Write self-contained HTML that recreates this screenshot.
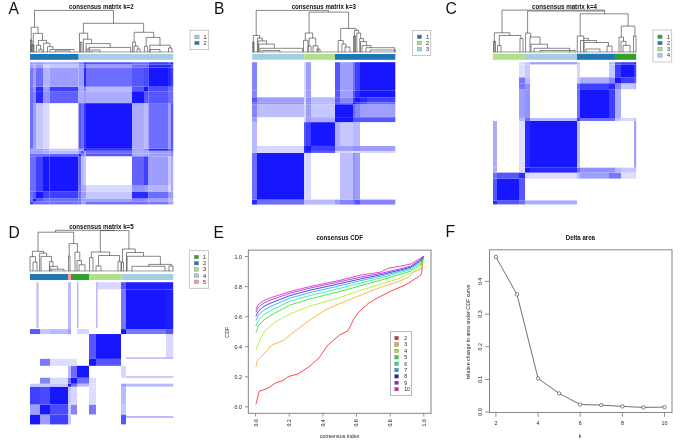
<!DOCTYPE html>
<html><head><meta charset="utf-8"><style>
html,body{margin:0;padding:0;background:#fff;width:685px;height:446px;overflow:hidden}
svg{display:block;will-change:transform}
text{font-family:"Liberation Sans",sans-serif}
</style></head><body>
<svg width="685" height="446" viewBox="0 0 685 446">
<rect width="685" height="446" fill="#fff"/>
<text x="8.5" y="14" font-size="15.6" fill="#111">A</text>
<text x="214" y="14" font-size="15.6" fill="#111">B</text>
<text x="445.5" y="14" font-size="15.6" fill="#111">C</text>
<text x="8.5" y="238" font-size="15.6" fill="#111">D</text>
<text x="213.6" y="238" font-size="15.6" fill="#111">E</text>
<text x="445.5" y="237.4" font-size="15.6" fill="#111">F</text>
<text x="69.1" y="9.3" font-size="7" font-weight="bold" textLength="64.5" lengthAdjust="spacingAndGlyphs" fill="#111">consensus matrix k=2</text>
<text x="291.7" y="9.2" font-size="7" font-weight="bold" textLength="64.2" lengthAdjust="spacingAndGlyphs" fill="#111">consensus matrix k=3</text>
<text x="532" y="9.3" font-size="7" font-weight="bold" textLength="65.0" lengthAdjust="spacingAndGlyphs" fill="#111">consensus matrix k=4</text>
<text x="69.2" y="229.3" font-size="7" font-weight="bold" textLength="64.4" lengthAdjust="spacingAndGlyphs" fill="#111">consensus matrix k=5</text>
<text x="316.4" y="239.8" font-size="7" font-weight="bold" textLength="46.6" lengthAdjust="spacingAndGlyphs" fill="#111">consensus CDF</text>
<text x="565.8" y="239.8" font-size="7" font-weight="bold" textLength="29.2" lengthAdjust="spacingAndGlyphs" fill="#111">Delta area</text>
<rect x="30.00" y="201.42" width="3.00" height="2.98" fill="rgb(63,63,255)"/>
<rect x="30.00" y="198.44" width="3.00" height="2.98" fill="rgb(109,109,255)"/>
<rect x="30.00" y="191.49" width="3.00" height="6.95" fill="rgb(109,109,255)"/>
<rect x="30.00" y="185.04" width="3.00" height="6.45" fill="rgb(109,109,255)"/>
<rect x="30.00" y="156.24" width="3.00" height="28.80" fill="rgb(109,109,255)"/>
<rect x="30.00" y="153.76" width="3.00" height="2.48" fill="rgb(109,109,255)"/>
<rect x="30.00" y="150.78" width="3.00" height="2.98" fill="rgb(158,158,255)"/>
<rect x="30.00" y="148.79" width="3.00" height="1.99" fill="rgb(158,158,255)"/>
<rect x="30.00" y="103.11" width="3.00" height="45.68" fill="rgb(109,109,255)"/>
<rect x="30.00" y="91.20" width="3.00" height="11.92" fill="rgb(109,109,255)"/>
<rect x="30.00" y="86.73" width="3.00" height="4.47" fill="rgb(109,109,255)"/>
<rect x="30.00" y="67.36" width="3.00" height="19.36" fill="rgb(120,120,255)"/>
<rect x="30.00" y="64.38" width="3.00" height="2.98" fill="rgb(158,158,255)"/>
<rect x="30.00" y="62.20" width="3.00" height="2.18" fill="rgb(158,158,255)"/>
<rect x="33.00" y="201.42" width="3.00" height="2.98" fill="rgb(109,109,255)"/>
<rect x="33.00" y="198.44" width="3.00" height="2.98" fill="rgb(23,23,255)"/>
<rect x="33.00" y="191.49" width="3.00" height="6.95" fill="rgb(86,86,255)"/>
<rect x="33.00" y="185.04" width="3.00" height="6.45" fill="rgb(109,109,255)"/>
<rect x="33.00" y="156.24" width="3.00" height="28.80" fill="rgb(109,109,255)"/>
<rect x="33.00" y="153.76" width="3.00" height="2.48" fill="rgb(109,109,255)"/>
<rect x="33.00" y="150.78" width="3.00" height="2.98" fill="rgb(158,158,255)"/>
<rect x="33.00" y="148.79" width="3.00" height="1.99" fill="rgb(158,158,255)"/>
<rect x="33.00" y="103.11" width="3.00" height="45.68" fill="rgb(158,158,255)"/>
<rect x="33.00" y="91.20" width="3.00" height="11.92" fill="rgb(132,132,255)"/>
<rect x="33.00" y="86.73" width="3.00" height="4.47" fill="rgb(145,145,255)"/>
<rect x="33.00" y="67.36" width="3.00" height="19.36" fill="rgb(158,158,255)"/>
<rect x="33.00" y="64.38" width="3.00" height="2.98" fill="rgb(185,185,255)"/>
<rect x="33.00" y="62.20" width="3.00" height="2.18" fill="rgb(171,171,255)"/>
<rect x="36.00" y="201.42" width="7.00" height="2.98" fill="rgb(109,109,255)"/>
<rect x="36.00" y="198.44" width="7.00" height="2.98" fill="rgb(86,86,255)"/>
<rect x="36.00" y="191.49" width="7.00" height="6.95" fill="rgb(23,23,255)"/>
<rect x="36.00" y="185.04" width="7.00" height="6.45" fill="rgb(63,63,255)"/>
<rect x="36.00" y="156.24" width="7.00" height="28.80" fill="rgb(63,63,255)"/>
<rect x="36.00" y="153.76" width="7.00" height="2.48" fill="rgb(109,109,255)"/>
<rect x="36.00" y="150.78" width="7.00" height="2.98" fill="rgb(158,158,255)"/>
<rect x="36.00" y="148.79" width="7.00" height="1.99" fill="rgb(158,158,255)"/>
<rect x="36.00" y="103.11" width="7.00" height="45.68" fill="rgb(199,199,255)"/>
<rect x="36.00" y="91.20" width="7.00" height="11.92" fill="rgb(42,42,255)"/>
<rect x="36.00" y="86.73" width="7.00" height="4.47" fill="rgb(42,42,255)"/>
<rect x="36.00" y="67.36" width="7.00" height="19.36" fill="rgb(109,109,255)"/>
<rect x="36.00" y="64.38" width="7.00" height="2.98" fill="rgb(158,158,255)"/>
<rect x="36.00" y="62.20" width="7.00" height="2.18" fill="rgb(158,158,255)"/>
<rect x="43.00" y="201.42" width="6.50" height="2.98" fill="rgb(109,109,255)"/>
<rect x="43.00" y="198.44" width="6.50" height="2.98" fill="rgb(109,109,255)"/>
<rect x="43.00" y="191.49" width="6.50" height="6.95" fill="rgb(63,63,255)"/>
<rect x="43.00" y="185.04" width="6.50" height="6.45" fill="rgb(23,23,255)"/>
<rect x="43.00" y="156.24" width="6.50" height="28.80" fill="rgb(23,23,255)"/>
<rect x="43.00" y="153.76" width="6.50" height="2.48" fill="rgb(109,109,255)"/>
<rect x="43.00" y="150.78" width="6.50" height="2.98" fill="rgb(171,171,255)"/>
<rect x="43.00" y="148.79" width="6.50" height="1.99" fill="rgb(171,171,255)"/>
<rect x="43.00" y="103.11" width="6.50" height="45.68" fill="rgb(215,215,255)"/>
<rect x="43.00" y="91.20" width="6.50" height="11.92" fill="rgb(145,145,255)"/>
<rect x="43.00" y="86.73" width="6.50" height="4.47" fill="rgb(158,158,255)"/>
<rect x="43.00" y="67.36" width="6.50" height="19.36" fill="rgb(179,179,255)"/>
<rect x="43.00" y="64.38" width="6.50" height="2.98" fill="rgb(215,215,255)"/>
<rect x="43.00" y="62.20" width="6.50" height="2.18" fill="rgb(171,171,255)"/>
<rect x="49.50" y="201.42" width="29.00" height="2.98" fill="rgb(109,109,255)"/>
<rect x="49.50" y="198.44" width="29.00" height="2.98" fill="rgb(109,109,255)"/>
<rect x="49.50" y="191.49" width="29.00" height="6.95" fill="rgb(63,63,255)"/>
<rect x="49.50" y="185.04" width="29.00" height="6.45" fill="rgb(23,23,255)"/>
<rect x="49.50" y="156.24" width="29.00" height="28.80" fill="rgb(23,23,255)"/>
<rect x="49.50" y="153.76" width="29.00" height="2.48" fill="rgb(97,97,255)"/>
<rect x="49.50" y="150.78" width="29.00" height="2.98" fill="rgb(185,185,255)"/>
<rect x="49.50" y="148.79" width="29.00" height="1.99" fill="rgb(199,199,255)"/>
<rect x="49.50" y="91.20" width="29.00" height="11.92" fill="rgb(97,97,255)"/>
<rect x="49.50" y="86.73" width="29.00" height="4.47" fill="rgb(63,63,255)"/>
<rect x="49.50" y="67.36" width="29.00" height="19.36" fill="rgb(158,158,255)"/>
<rect x="49.50" y="64.38" width="29.00" height="2.98" fill="rgb(199,199,255)"/>
<rect x="49.50" y="62.20" width="29.00" height="2.18" fill="rgb(171,171,255)"/>
<rect x="78.50" y="201.42" width="2.50" height="2.98" fill="rgb(109,109,255)"/>
<rect x="78.50" y="198.44" width="2.50" height="2.98" fill="rgb(109,109,255)"/>
<rect x="78.50" y="191.49" width="2.50" height="6.95" fill="rgb(109,109,255)"/>
<rect x="78.50" y="185.04" width="2.50" height="6.45" fill="rgb(109,109,255)"/>
<rect x="78.50" y="156.24" width="2.50" height="28.80" fill="rgb(97,97,255)"/>
<rect x="78.50" y="153.76" width="2.50" height="2.48" fill="rgb(23,23,255)"/>
<rect x="78.50" y="150.78" width="2.50" height="2.98" fill="rgb(132,132,255)"/>
<rect x="78.50" y="148.79" width="2.50" height="1.99" fill="rgb(158,158,255)"/>
<rect x="78.50" y="103.11" width="2.50" height="45.68" fill="rgb(86,86,255)"/>
<rect x="78.50" y="91.20" width="2.50" height="11.92" fill="rgb(171,171,255)"/>
<rect x="78.50" y="86.73" width="2.50" height="4.47" fill="rgb(171,171,255)"/>
<rect x="78.50" y="67.36" width="2.50" height="19.36" fill="rgb(158,158,255)"/>
<rect x="78.50" y="64.38" width="2.50" height="2.98" fill="rgb(158,158,255)"/>
<rect x="78.50" y="62.20" width="2.50" height="2.18" fill="rgb(132,132,255)"/>
<rect x="81.00" y="201.42" width="3.00" height="2.98" fill="rgb(158,158,255)"/>
<rect x="81.00" y="198.44" width="3.00" height="2.98" fill="rgb(158,158,255)"/>
<rect x="81.00" y="191.49" width="3.00" height="6.95" fill="rgb(158,158,255)"/>
<rect x="81.00" y="185.04" width="3.00" height="6.45" fill="rgb(171,171,255)"/>
<rect x="81.00" y="156.24" width="3.00" height="28.80" fill="rgb(185,185,255)"/>
<rect x="81.00" y="153.76" width="3.00" height="2.48" fill="rgb(132,132,255)"/>
<rect x="81.00" y="150.78" width="3.00" height="2.98" fill="rgb(86,86,255)"/>
<rect x="81.00" y="148.79" width="3.00" height="1.99" fill="rgb(158,158,255)"/>
<rect x="81.00" y="103.11" width="3.00" height="45.68" fill="rgb(109,109,255)"/>
<rect x="81.00" y="91.20" width="3.00" height="11.92" fill="rgb(171,171,255)"/>
<rect x="81.00" y="86.73" width="3.00" height="4.47" fill="rgb(171,171,255)"/>
<rect x="81.00" y="67.36" width="3.00" height="19.36" fill="rgb(158,158,255)"/>
<rect x="81.00" y="64.38" width="3.00" height="2.98" fill="rgb(158,158,255)"/>
<rect x="81.00" y="62.20" width="3.00" height="2.18" fill="rgb(132,132,255)"/>
<rect x="84.00" y="201.42" width="2.00" height="2.98" fill="rgb(158,158,255)"/>
<rect x="84.00" y="198.44" width="2.00" height="2.98" fill="rgb(158,158,255)"/>
<rect x="84.00" y="191.49" width="2.00" height="6.95" fill="rgb(158,158,255)"/>
<rect x="84.00" y="185.04" width="2.00" height="6.45" fill="rgb(171,171,255)"/>
<rect x="84.00" y="156.24" width="2.00" height="28.80" fill="rgb(199,199,255)"/>
<rect x="84.00" y="153.76" width="2.00" height="2.48" fill="rgb(158,158,255)"/>
<rect x="84.00" y="150.78" width="2.00" height="2.98" fill="rgb(158,158,255)"/>
<rect x="84.00" y="148.79" width="2.00" height="1.99" fill="rgb(23,23,255)"/>
<rect x="84.00" y="103.11" width="2.00" height="45.68" fill="rgb(52,52,255)"/>
<rect x="84.00" y="91.20" width="2.00" height="11.92" fill="rgb(158,158,255)"/>
<rect x="84.00" y="86.73" width="2.00" height="4.47" fill="rgb(132,132,255)"/>
<rect x="84.00" y="67.36" width="2.00" height="19.36" fill="rgb(42,42,255)"/>
<rect x="84.00" y="64.38" width="2.00" height="2.98" fill="rgb(86,86,255)"/>
<rect x="84.00" y="62.20" width="2.00" height="2.18" fill="rgb(63,63,255)"/>
<rect x="86.00" y="201.42" width="46.00" height="2.98" fill="rgb(109,109,255)"/>
<rect x="86.00" y="198.44" width="46.00" height="2.98" fill="rgb(158,158,255)"/>
<rect x="86.00" y="191.49" width="46.00" height="6.95" fill="rgb(199,199,255)"/>
<rect x="86.00" y="185.04" width="46.00" height="6.45" fill="rgb(215,215,255)"/>
<rect x="86.00" y="153.76" width="46.00" height="2.48" fill="rgb(86,86,255)"/>
<rect x="86.00" y="150.78" width="46.00" height="2.98" fill="rgb(109,109,255)"/>
<rect x="86.00" y="148.79" width="46.00" height="1.99" fill="rgb(52,52,255)"/>
<rect x="86.00" y="103.11" width="46.00" height="45.68" fill="rgb(23,23,255)"/>
<rect x="86.00" y="91.20" width="46.00" height="11.92" fill="rgb(171,171,255)"/>
<rect x="86.00" y="86.73" width="46.00" height="4.47" fill="rgb(185,185,255)"/>
<rect x="86.00" y="67.36" width="46.00" height="19.36" fill="rgb(109,109,255)"/>
<rect x="86.00" y="64.38" width="46.00" height="2.98" fill="rgb(158,158,255)"/>
<rect x="86.00" y="62.20" width="46.00" height="2.18" fill="rgb(86,86,255)"/>
<rect x="132.00" y="201.42" width="12.00" height="2.98" fill="rgb(109,109,255)"/>
<rect x="132.00" y="198.44" width="12.00" height="2.98" fill="rgb(132,132,255)"/>
<rect x="132.00" y="191.49" width="12.00" height="6.95" fill="rgb(42,42,255)"/>
<rect x="132.00" y="185.04" width="12.00" height="6.45" fill="rgb(145,145,255)"/>
<rect x="132.00" y="156.24" width="12.00" height="28.80" fill="rgb(97,97,255)"/>
<rect x="132.00" y="153.76" width="12.00" height="2.48" fill="rgb(171,171,255)"/>
<rect x="132.00" y="150.78" width="12.00" height="2.98" fill="rgb(171,171,255)"/>
<rect x="132.00" y="148.79" width="12.00" height="1.99" fill="rgb(158,158,255)"/>
<rect x="132.00" y="103.11" width="12.00" height="45.68" fill="rgb(171,171,255)"/>
<rect x="132.00" y="91.20" width="12.00" height="11.92" fill="rgb(23,23,255)"/>
<rect x="132.00" y="86.73" width="12.00" height="4.47" fill="rgb(86,86,255)"/>
<rect x="132.00" y="67.36" width="12.00" height="19.36" fill="rgb(86,86,255)"/>
<rect x="132.00" y="64.38" width="12.00" height="2.98" fill="rgb(109,109,255)"/>
<rect x="132.00" y="62.20" width="12.00" height="2.18" fill="rgb(109,109,255)"/>
<rect x="144.00" y="201.42" width="4.50" height="2.98" fill="rgb(109,109,255)"/>
<rect x="144.00" y="198.44" width="4.50" height="2.98" fill="rgb(145,145,255)"/>
<rect x="144.00" y="191.49" width="4.50" height="6.95" fill="rgb(42,42,255)"/>
<rect x="144.00" y="185.04" width="4.50" height="6.45" fill="rgb(158,158,255)"/>
<rect x="144.00" y="156.24" width="4.50" height="28.80" fill="rgb(63,63,255)"/>
<rect x="144.00" y="153.76" width="4.50" height="2.48" fill="rgb(171,171,255)"/>
<rect x="144.00" y="150.78" width="4.50" height="2.98" fill="rgb(171,171,255)"/>
<rect x="144.00" y="148.79" width="4.50" height="1.99" fill="rgb(132,132,255)"/>
<rect x="144.00" y="103.11" width="4.50" height="45.68" fill="rgb(185,185,255)"/>
<rect x="144.00" y="91.20" width="4.50" height="11.92" fill="rgb(86,86,255)"/>
<rect x="144.00" y="86.73" width="4.50" height="4.47" fill="rgb(23,23,255)"/>
<rect x="144.00" y="67.36" width="4.50" height="19.36" fill="rgb(74,74,255)"/>
<rect x="144.00" y="64.38" width="4.50" height="2.98" fill="rgb(109,109,255)"/>
<rect x="144.00" y="62.20" width="4.50" height="2.18" fill="rgb(109,109,255)"/>
<rect x="148.50" y="201.42" width="19.50" height="2.98" fill="rgb(120,120,255)"/>
<rect x="148.50" y="198.44" width="19.50" height="2.98" fill="rgb(158,158,255)"/>
<rect x="148.50" y="191.49" width="19.50" height="6.95" fill="rgb(109,109,255)"/>
<rect x="148.50" y="185.04" width="19.50" height="6.45" fill="rgb(179,179,255)"/>
<rect x="148.50" y="156.24" width="19.50" height="28.80" fill="rgb(158,158,255)"/>
<rect x="148.50" y="153.76" width="19.50" height="2.48" fill="rgb(158,158,255)"/>
<rect x="148.50" y="150.78" width="19.50" height="2.98" fill="rgb(158,158,255)"/>
<rect x="148.50" y="148.79" width="19.50" height="1.99" fill="rgb(42,42,255)"/>
<rect x="148.50" y="103.11" width="19.50" height="45.68" fill="rgb(109,109,255)"/>
<rect x="148.50" y="91.20" width="19.50" height="11.92" fill="rgb(86,86,255)"/>
<rect x="148.50" y="86.73" width="19.50" height="4.47" fill="rgb(74,74,255)"/>
<rect x="148.50" y="67.36" width="19.50" height="19.36" fill="rgb(23,23,255)"/>
<rect x="148.50" y="64.38" width="19.50" height="2.98" fill="rgb(42,42,255)"/>
<rect x="148.50" y="62.20" width="19.50" height="2.18" fill="rgb(63,63,255)"/>
<rect x="168.00" y="201.42" width="3.00" height="2.98" fill="rgb(158,158,255)"/>
<rect x="168.00" y="198.44" width="3.00" height="2.98" fill="rgb(185,185,255)"/>
<rect x="168.00" y="191.49" width="3.00" height="6.95" fill="rgb(158,158,255)"/>
<rect x="168.00" y="185.04" width="3.00" height="6.45" fill="rgb(215,215,255)"/>
<rect x="168.00" y="156.24" width="3.00" height="28.80" fill="rgb(199,199,255)"/>
<rect x="168.00" y="153.76" width="3.00" height="2.48" fill="rgb(158,158,255)"/>
<rect x="168.00" y="150.78" width="3.00" height="2.98" fill="rgb(158,158,255)"/>
<rect x="168.00" y="148.79" width="3.00" height="1.99" fill="rgb(86,86,255)"/>
<rect x="168.00" y="103.11" width="3.00" height="45.68" fill="rgb(158,158,255)"/>
<rect x="168.00" y="91.20" width="3.00" height="11.92" fill="rgb(109,109,255)"/>
<rect x="168.00" y="86.73" width="3.00" height="4.47" fill="rgb(109,109,255)"/>
<rect x="168.00" y="67.36" width="3.00" height="19.36" fill="rgb(42,42,255)"/>
<rect x="168.00" y="64.38" width="3.00" height="2.98" fill="rgb(42,42,255)"/>
<rect x="168.00" y="62.20" width="3.00" height="2.18" fill="rgb(86,86,255)"/>
<rect x="171.00" y="201.42" width="2.20" height="2.98" fill="rgb(158,158,255)"/>
<rect x="171.00" y="198.44" width="2.20" height="2.98" fill="rgb(171,171,255)"/>
<rect x="171.00" y="191.49" width="2.20" height="6.95" fill="rgb(158,158,255)"/>
<rect x="171.00" y="185.04" width="2.20" height="6.45" fill="rgb(171,171,255)"/>
<rect x="171.00" y="156.24" width="2.20" height="28.80" fill="rgb(171,171,255)"/>
<rect x="171.00" y="153.76" width="2.20" height="2.48" fill="rgb(132,132,255)"/>
<rect x="171.00" y="150.78" width="2.20" height="2.98" fill="rgb(132,132,255)"/>
<rect x="171.00" y="148.79" width="2.20" height="1.99" fill="rgb(63,63,255)"/>
<rect x="171.00" y="103.11" width="2.20" height="45.68" fill="rgb(86,86,255)"/>
<rect x="171.00" y="91.20" width="2.20" height="11.92" fill="rgb(109,109,255)"/>
<rect x="171.00" y="86.73" width="2.20" height="4.47" fill="rgb(109,109,255)"/>
<rect x="171.00" y="67.36" width="2.20" height="19.36" fill="rgb(63,63,255)"/>
<rect x="171.00" y="64.38" width="2.20" height="2.98" fill="rgb(86,86,255)"/>
<rect x="171.00" y="62.20" width="2.20" height="2.18" fill="rgb(42,42,255)"/>
<rect x="252.00" y="199.63" width="5.00" height="4.97" fill="rgb(42,42,255)"/>
<rect x="252.00" y="152.93" width="5.00" height="46.70" fill="rgb(109,109,255)"/>
<rect x="252.00" y="150.94" width="5.00" height="1.99" fill="rgb(185,185,255)"/>
<rect x="252.00" y="145.97" width="5.00" height="4.97" fill="rgb(185,185,255)"/>
<rect x="252.00" y="122.12" width="5.00" height="23.85" fill="rgb(185,185,255)"/>
<rect x="252.00" y="117.15" width="5.00" height="4.97" fill="rgb(158,158,255)"/>
<rect x="252.00" y="104.23" width="5.00" height="12.92" fill="rgb(132,132,255)"/>
<rect x="252.00" y="102.25" width="5.00" height="1.99" fill="rgb(109,109,255)"/>
<rect x="252.00" y="97.28" width="5.00" height="4.97" fill="rgb(86,86,255)"/>
<rect x="252.00" y="90.32" width="5.00" height="6.96" fill="rgb(132,132,255)"/>
<rect x="252.00" y="62.20" width="5.00" height="28.12" fill="rgb(132,132,255)"/>
<rect x="257.00" y="199.63" width="47.00" height="4.97" fill="rgb(109,109,255)"/>
<rect x="257.00" y="152.93" width="47.00" height="46.70" fill="rgb(23,23,255)"/>
<rect x="257.00" y="150.94" width="47.00" height="1.99" fill="rgb(215,215,255)"/>
<rect x="257.00" y="145.97" width="47.00" height="4.97" fill="rgb(215,215,255)"/>
<rect x="257.00" y="104.23" width="47.00" height="12.92" fill="rgb(190,190,255)"/>
<rect x="257.00" y="102.25" width="47.00" height="1.99" fill="rgb(145,145,255)"/>
<rect x="257.00" y="97.28" width="47.00" height="4.97" fill="rgb(158,158,255)"/>
<rect x="304.00" y="199.63" width="2.00" height="4.97" fill="rgb(185,185,255)"/>
<rect x="304.00" y="152.93" width="2.00" height="46.70" fill="rgb(215,215,255)"/>
<rect x="304.00" y="150.94" width="2.00" height="1.99" fill="rgb(42,42,255)"/>
<rect x="304.00" y="145.97" width="2.00" height="4.97" fill="rgb(42,42,255)"/>
<rect x="304.00" y="122.12" width="2.00" height="23.85" fill="rgb(86,86,255)"/>
<rect x="304.00" y="117.15" width="2.00" height="4.97" fill="rgb(215,215,255)"/>
<rect x="304.00" y="104.23" width="2.00" height="12.92" fill="rgb(215,215,255)"/>
<rect x="304.00" y="102.25" width="2.00" height="1.99" fill="rgb(215,215,255)"/>
<rect x="304.00" y="97.28" width="2.00" height="4.97" fill="rgb(215,215,255)"/>
<rect x="304.00" y="90.32" width="2.00" height="6.96" fill="rgb(215,215,255)"/>
<rect x="304.00" y="62.20" width="2.00" height="28.12" fill="rgb(215,215,255)"/>
<rect x="306.00" y="199.63" width="5.00" height="4.97" fill="rgb(185,185,255)"/>
<rect x="306.00" y="152.93" width="5.00" height="46.70" fill="rgb(215,215,255)"/>
<rect x="306.00" y="150.94" width="5.00" height="1.99" fill="rgb(42,42,255)"/>
<rect x="306.00" y="145.97" width="5.00" height="4.97" fill="rgb(23,23,255)"/>
<rect x="306.00" y="122.12" width="5.00" height="23.85" fill="rgb(63,63,255)"/>
<rect x="306.00" y="117.15" width="5.00" height="4.97" fill="rgb(158,158,255)"/>
<rect x="306.00" y="104.23" width="5.00" height="12.92" fill="rgb(158,158,255)"/>
<rect x="306.00" y="102.25" width="5.00" height="1.99" fill="rgb(145,145,255)"/>
<rect x="306.00" y="97.28" width="5.00" height="4.97" fill="rgb(145,145,255)"/>
<rect x="306.00" y="90.32" width="5.00" height="6.96" fill="rgb(158,158,255)"/>
<rect x="306.00" y="62.20" width="5.00" height="28.12" fill="rgb(158,158,255)"/>
<rect x="311.00" y="199.63" width="24.00" height="4.97" fill="rgb(185,185,255)"/>
<rect x="311.00" y="150.94" width="24.00" height="1.99" fill="rgb(86,86,255)"/>
<rect x="311.00" y="145.97" width="24.00" height="4.97" fill="rgb(63,63,255)"/>
<rect x="311.00" y="122.12" width="24.00" height="23.85" fill="rgb(23,23,255)"/>
<rect x="311.00" y="117.15" width="24.00" height="4.97" fill="rgb(171,171,255)"/>
<rect x="311.00" y="104.23" width="24.00" height="12.92" fill="rgb(199,199,255)"/>
<rect x="311.00" y="102.25" width="24.00" height="1.99" fill="rgb(185,185,255)"/>
<rect x="311.00" y="97.28" width="24.00" height="4.97" fill="rgb(185,185,255)"/>
<rect x="335.00" y="199.63" width="5.00" height="4.97" fill="rgb(158,158,255)"/>
<rect x="335.00" y="150.94" width="5.00" height="1.99" fill="rgb(215,215,255)"/>
<rect x="335.00" y="145.97" width="5.00" height="4.97" fill="rgb(158,158,255)"/>
<rect x="335.00" y="122.12" width="5.00" height="23.85" fill="rgb(171,171,255)"/>
<rect x="335.00" y="117.15" width="5.00" height="4.97" fill="rgb(23,23,255)"/>
<rect x="335.00" y="104.23" width="5.00" height="12.92" fill="rgb(23,23,255)"/>
<rect x="335.00" y="102.25" width="5.00" height="1.99" fill="rgb(86,86,255)"/>
<rect x="335.00" y="97.28" width="5.00" height="4.97" fill="rgb(86,86,255)"/>
<rect x="335.00" y="90.32" width="5.00" height="6.96" fill="rgb(86,86,255)"/>
<rect x="335.00" y="62.20" width="5.00" height="28.12" fill="rgb(86,86,255)"/>
<rect x="340.00" y="199.63" width="13.00" height="4.97" fill="rgb(132,132,255)"/>
<rect x="340.00" y="152.93" width="13.00" height="46.70" fill="rgb(190,190,255)"/>
<rect x="340.00" y="150.94" width="13.00" height="1.99" fill="rgb(215,215,255)"/>
<rect x="340.00" y="145.97" width="13.00" height="4.97" fill="rgb(158,158,255)"/>
<rect x="340.00" y="122.12" width="13.00" height="23.85" fill="rgb(199,199,255)"/>
<rect x="340.00" y="117.15" width="13.00" height="4.97" fill="rgb(23,23,255)"/>
<rect x="340.00" y="104.23" width="13.00" height="12.92" fill="rgb(23,23,255)"/>
<rect x="340.00" y="102.25" width="13.00" height="1.99" fill="rgb(109,109,255)"/>
<rect x="340.00" y="97.28" width="13.00" height="4.97" fill="rgb(132,132,255)"/>
<rect x="340.00" y="90.32" width="13.00" height="6.96" fill="rgb(158,158,255)"/>
<rect x="340.00" y="62.20" width="13.00" height="28.12" fill="rgb(158,158,255)"/>
<rect x="353.00" y="199.63" width="2.00" height="4.97" fill="rgb(109,109,255)"/>
<rect x="353.00" y="152.93" width="2.00" height="46.70" fill="rgb(145,145,255)"/>
<rect x="353.00" y="150.94" width="2.00" height="1.99" fill="rgb(215,215,255)"/>
<rect x="353.00" y="145.97" width="2.00" height="4.97" fill="rgb(145,145,255)"/>
<rect x="353.00" y="122.12" width="2.00" height="23.85" fill="rgb(185,185,255)"/>
<rect x="353.00" y="117.15" width="2.00" height="4.97" fill="rgb(86,86,255)"/>
<rect x="353.00" y="104.23" width="2.00" height="12.92" fill="rgb(109,109,255)"/>
<rect x="353.00" y="102.25" width="2.00" height="1.99" fill="rgb(23,23,255)"/>
<rect x="353.00" y="97.28" width="2.00" height="4.97" fill="rgb(63,63,255)"/>
<rect x="353.00" y="90.32" width="2.00" height="6.96" fill="rgb(86,86,255)"/>
<rect x="353.00" y="62.20" width="2.00" height="28.12" fill="rgb(109,109,255)"/>
<rect x="355.00" y="199.63" width="5.00" height="4.97" fill="rgb(86,86,255)"/>
<rect x="355.00" y="152.93" width="5.00" height="46.70" fill="rgb(158,158,255)"/>
<rect x="355.00" y="150.94" width="5.00" height="1.99" fill="rgb(215,215,255)"/>
<rect x="355.00" y="145.97" width="5.00" height="4.97" fill="rgb(145,145,255)"/>
<rect x="355.00" y="122.12" width="5.00" height="23.85" fill="rgb(185,185,255)"/>
<rect x="355.00" y="117.15" width="5.00" height="4.97" fill="rgb(86,86,255)"/>
<rect x="355.00" y="104.23" width="5.00" height="12.92" fill="rgb(132,132,255)"/>
<rect x="355.00" y="102.25" width="5.00" height="1.99" fill="rgb(63,63,255)"/>
<rect x="355.00" y="97.28" width="5.00" height="4.97" fill="rgb(23,23,255)"/>
<rect x="355.00" y="90.32" width="5.00" height="6.96" fill="rgb(42,42,255)"/>
<rect x="355.00" y="62.20" width="5.00" height="28.12" fill="rgb(63,63,255)"/>
<rect x="360.00" y="199.63" width="7.00" height="4.97" fill="rgb(132,132,255)"/>
<rect x="360.00" y="150.94" width="7.00" height="1.99" fill="rgb(215,215,255)"/>
<rect x="360.00" y="145.97" width="7.00" height="4.97" fill="rgb(158,158,255)"/>
<rect x="360.00" y="117.15" width="7.00" height="4.97" fill="rgb(86,86,255)"/>
<rect x="360.00" y="104.23" width="7.00" height="12.92" fill="rgb(158,158,255)"/>
<rect x="360.00" y="102.25" width="7.00" height="1.99" fill="rgb(86,86,255)"/>
<rect x="360.00" y="97.28" width="7.00" height="4.97" fill="rgb(42,42,255)"/>
<rect x="360.00" y="90.32" width="7.00" height="6.96" fill="rgb(23,23,255)"/>
<rect x="360.00" y="62.20" width="7.00" height="28.12" fill="rgb(23,23,255)"/>
<rect x="367.00" y="199.63" width="28.30" height="4.97" fill="rgb(132,132,255)"/>
<rect x="367.00" y="150.94" width="28.30" height="1.99" fill="rgb(215,215,255)"/>
<rect x="367.00" y="145.97" width="28.30" height="4.97" fill="rgb(158,158,255)"/>
<rect x="367.00" y="117.15" width="28.30" height="4.97" fill="rgb(86,86,255)"/>
<rect x="367.00" y="104.23" width="28.30" height="12.92" fill="rgb(158,158,255)"/>
<rect x="367.00" y="102.25" width="28.30" height="1.99" fill="rgb(109,109,255)"/>
<rect x="367.00" y="97.28" width="28.30" height="4.97" fill="rgb(63,63,255)"/>
<rect x="367.00" y="90.32" width="28.30" height="6.96" fill="rgb(23,23,255)"/>
<rect x="367.00" y="62.20" width="28.30" height="28.12" fill="rgb(23,23,255)"/>
<rect x="493.00" y="200.43" width="4.00" height="3.97" fill="rgb(42,42,255)"/>
<rect x="493.00" y="178.58" width="4.00" height="21.85" fill="rgb(86,86,255)"/>
<rect x="493.00" y="172.62" width="4.00" height="5.96" fill="rgb(109,109,255)"/>
<rect x="493.00" y="167.66" width="4.00" height="4.97" fill="rgb(171,171,255)"/>
<rect x="493.00" y="120.99" width="4.00" height="46.67" fill="rgb(171,171,255)"/>
<rect x="497.00" y="200.43" width="22.00" height="3.97" fill="rgb(86,86,255)"/>
<rect x="497.00" y="178.58" width="22.00" height="21.85" fill="rgb(23,23,255)"/>
<rect x="497.00" y="172.62" width="22.00" height="5.96" fill="rgb(86,86,255)"/>
<rect x="519.00" y="200.43" width="6.00" height="3.97" fill="rgb(109,109,255)"/>
<rect x="519.00" y="178.58" width="6.00" height="21.85" fill="rgb(86,86,255)"/>
<rect x="519.00" y="172.62" width="6.00" height="5.96" fill="rgb(42,42,255)"/>
<rect x="519.00" y="167.66" width="6.00" height="4.97" fill="rgb(215,215,255)"/>
<rect x="519.00" y="120.99" width="6.00" height="46.67" fill="rgb(221,221,255)"/>
<rect x="519.00" y="118.01" width="6.00" height="2.98" fill="rgb(185,185,255)"/>
<rect x="519.00" y="89.21" width="6.00" height="28.80" fill="rgb(158,158,255)"/>
<rect x="519.00" y="83.25" width="6.00" height="5.96" fill="rgb(120,120,255)"/>
<rect x="519.00" y="77.29" width="6.00" height="5.96" fill="rgb(120,120,255)"/>
<rect x="519.00" y="64.38" width="6.00" height="12.91" fill="rgb(221,221,255)"/>
<rect x="519.00" y="62.20" width="6.00" height="2.18" fill="rgb(221,221,255)"/>
<rect x="525.00" y="200.43" width="5.00" height="3.97" fill="rgb(171,171,255)"/>
<rect x="525.00" y="172.62" width="5.00" height="5.96" fill="rgb(215,215,255)"/>
<rect x="525.00" y="167.66" width="5.00" height="4.97" fill="rgb(23,23,255)"/>
<rect x="525.00" y="120.99" width="5.00" height="46.67" fill="rgb(42,42,255)"/>
<rect x="525.00" y="118.01" width="5.00" height="2.98" fill="rgb(109,109,255)"/>
<rect x="525.00" y="89.21" width="5.00" height="28.80" fill="rgb(145,145,255)"/>
<rect x="525.00" y="83.25" width="5.00" height="5.96" fill="rgb(145,145,255)"/>
<rect x="525.00" y="77.29" width="5.00" height="5.96" fill="rgb(185,185,255)"/>
<rect x="525.00" y="64.38" width="5.00" height="12.91" fill="rgb(199,199,255)"/>
<rect x="525.00" y="62.20" width="5.00" height="2.18" fill="rgb(199,199,255)"/>
<rect x="530.00" y="200.43" width="47.00" height="3.97" fill="rgb(171,171,255)"/>
<rect x="530.00" y="172.62" width="47.00" height="5.96" fill="rgb(221,221,255)"/>
<rect x="530.00" y="167.66" width="47.00" height="4.97" fill="rgb(42,42,255)"/>
<rect x="530.00" y="120.99" width="47.00" height="46.67" fill="rgb(23,23,255)"/>
<rect x="530.00" y="118.01" width="47.00" height="2.98" fill="rgb(185,185,255)"/>
<rect x="530.00" y="62.20" width="47.00" height="2.18" fill="rgb(158,158,255)"/>
<rect x="577.00" y="172.62" width="3.00" height="5.96" fill="rgb(185,185,255)"/>
<rect x="577.00" y="167.66" width="3.00" height="4.97" fill="rgb(109,109,255)"/>
<rect x="577.00" y="120.99" width="3.00" height="46.67" fill="rgb(185,185,255)"/>
<rect x="577.00" y="118.01" width="3.00" height="2.98" fill="rgb(63,63,255)"/>
<rect x="577.00" y="89.21" width="3.00" height="28.80" fill="rgb(109,109,255)"/>
<rect x="577.00" y="83.25" width="3.00" height="5.96" fill="rgb(109,109,255)"/>
<rect x="577.00" y="77.29" width="3.00" height="5.96" fill="rgb(199,199,255)"/>
<rect x="577.00" y="64.38" width="3.00" height="12.91" fill="rgb(215,215,255)"/>
<rect x="577.00" y="62.20" width="3.00" height="2.18" fill="rgb(199,199,255)"/>
<rect x="580.00" y="172.62" width="29.00" height="5.96" fill="rgb(158,158,255)"/>
<rect x="580.00" y="167.66" width="29.00" height="4.97" fill="rgb(145,145,255)"/>
<rect x="580.00" y="118.01" width="29.00" height="2.98" fill="rgb(109,109,255)"/>
<rect x="580.00" y="89.21" width="29.00" height="28.80" fill="rgb(23,23,255)"/>
<rect x="580.00" y="83.25" width="29.00" height="5.96" fill="rgb(63,63,255)"/>
<rect x="580.00" y="77.29" width="29.00" height="5.96" fill="rgb(171,171,255)"/>
<rect x="609.00" y="172.62" width="6.00" height="5.96" fill="rgb(120,120,255)"/>
<rect x="609.00" y="167.66" width="6.00" height="4.97" fill="rgb(145,145,255)"/>
<rect x="609.00" y="118.01" width="6.00" height="2.98" fill="rgb(109,109,255)"/>
<rect x="609.00" y="89.21" width="6.00" height="28.80" fill="rgb(63,63,255)"/>
<rect x="609.00" y="83.25" width="6.00" height="5.96" fill="rgb(42,42,255)"/>
<rect x="609.00" y="77.29" width="6.00" height="5.96" fill="rgb(132,132,255)"/>
<rect x="609.00" y="64.38" width="6.00" height="12.91" fill="rgb(199,199,255)"/>
<rect x="609.00" y="62.20" width="6.00" height="2.18" fill="rgb(185,185,255)"/>
<rect x="615.00" y="172.62" width="6.00" height="5.96" fill="rgb(120,120,255)"/>
<rect x="615.00" y="167.66" width="6.00" height="4.97" fill="rgb(185,185,255)"/>
<rect x="615.00" y="118.01" width="6.00" height="2.98" fill="rgb(199,199,255)"/>
<rect x="615.00" y="89.21" width="6.00" height="28.80" fill="rgb(171,171,255)"/>
<rect x="615.00" y="83.25" width="6.00" height="5.96" fill="rgb(132,132,255)"/>
<rect x="615.00" y="77.29" width="6.00" height="5.96" fill="rgb(23,23,255)"/>
<rect x="615.00" y="64.38" width="6.00" height="12.91" fill="rgb(63,63,255)"/>
<rect x="615.00" y="62.20" width="6.00" height="2.18" fill="rgb(86,86,255)"/>
<rect x="621.00" y="172.62" width="13.00" height="5.96" fill="rgb(221,221,255)"/>
<rect x="621.00" y="167.66" width="13.00" height="4.97" fill="rgb(199,199,255)"/>
<rect x="621.00" y="118.01" width="13.00" height="2.98" fill="rgb(215,215,255)"/>
<rect x="621.00" y="83.25" width="13.00" height="5.96" fill="rgb(199,199,255)"/>
<rect x="621.00" y="77.29" width="13.00" height="5.96" fill="rgb(63,63,255)"/>
<rect x="621.00" y="64.38" width="13.00" height="12.91" fill="rgb(23,23,255)"/>
<rect x="621.00" y="62.20" width="13.00" height="2.18" fill="rgb(63,63,255)"/>
<rect x="634.00" y="172.62" width="2.20" height="5.96" fill="rgb(221,221,255)"/>
<rect x="634.00" y="167.66" width="2.20" height="4.97" fill="rgb(199,199,255)"/>
<rect x="634.00" y="120.99" width="2.20" height="46.67" fill="rgb(158,158,255)"/>
<rect x="634.00" y="118.01" width="2.20" height="2.98" fill="rgb(199,199,255)"/>
<rect x="634.00" y="83.25" width="2.20" height="5.96" fill="rgb(185,185,255)"/>
<rect x="634.00" y="77.29" width="2.20" height="5.96" fill="rgb(86,86,255)"/>
<rect x="634.00" y="64.38" width="2.20" height="12.91" fill="rgb(63,63,255)"/>
<rect x="634.00" y="62.20" width="2.20" height="2.18" fill="rgb(42,42,255)"/>
<rect x="30.00" y="414.47" width="10.00" height="9.93" fill="rgb(23,23,255)"/>
<rect x="30.00" y="404.54" width="10.00" height="9.93" fill="rgb(158,158,255)"/>
<rect x="30.00" y="386.67" width="10.00" height="17.87" fill="rgb(63,63,255)"/>
<rect x="30.00" y="383.69" width="10.00" height="2.98" fill="rgb(199,199,255)"/>
<rect x="30.00" y="329.07" width="10.00" height="4.97" fill="rgb(86,86,255)"/>
<rect x="40.00" y="414.47" width="10.00" height="9.93" fill="rgb(158,158,255)"/>
<rect x="40.00" y="404.54" width="10.00" height="9.93" fill="rgb(23,23,255)"/>
<rect x="40.00" y="386.67" width="10.00" height="17.87" fill="rgb(74,74,255)"/>
<rect x="40.00" y="383.69" width="10.00" height="2.98" fill="rgb(199,199,255)"/>
<rect x="40.00" y="377.73" width="10.00" height="5.96" fill="rgb(132,132,255)"/>
<rect x="40.00" y="358.86" width="10.00" height="6.95" fill="rgb(120,120,255)"/>
<rect x="40.00" y="329.07" width="10.00" height="4.97" fill="rgb(199,199,255)"/>
<rect x="50.00" y="414.47" width="18.00" height="9.93" fill="rgb(63,63,255)"/>
<rect x="50.00" y="404.54" width="18.00" height="9.93" fill="rgb(74,74,255)"/>
<rect x="50.00" y="386.67" width="18.00" height="17.87" fill="rgb(23,23,255)"/>
<rect x="50.00" y="383.69" width="18.00" height="2.98" fill="rgb(199,199,255)"/>
<rect x="50.00" y="377.73" width="18.00" height="5.96" fill="rgb(215,215,255)"/>
<rect x="50.00" y="358.86" width="18.00" height="6.95" fill="rgb(221,221,255)"/>
<rect x="50.00" y="329.07" width="18.00" height="4.97" fill="rgb(185,185,255)"/>
<rect x="68.00" y="414.47" width="3.00" height="9.93" fill="rgb(199,199,255)"/>
<rect x="68.00" y="404.54" width="3.00" height="9.93" fill="rgb(199,199,255)"/>
<rect x="68.00" y="386.67" width="3.00" height="17.87" fill="rgb(199,199,255)"/>
<rect x="68.00" y="383.69" width="3.00" height="2.98" fill="rgb(23,23,255)"/>
<rect x="68.00" y="377.73" width="3.00" height="5.96" fill="rgb(109,109,255)"/>
<rect x="68.00" y="365.81" width="3.00" height="11.92" fill="rgb(185,185,255)"/>
<rect x="68.00" y="358.86" width="3.00" height="6.95" fill="rgb(221,221,255)"/>
<rect x="68.00" y="329.07" width="3.00" height="4.97" fill="rgb(158,158,255)"/>
<rect x="68.00" y="289.35" width="3.00" height="39.72" fill="rgb(185,185,255)"/>
<rect x="68.00" y="282.20" width="3.00" height="7.15" fill="rgb(185,185,255)"/>
<rect x="71.00" y="404.54" width="6.00" height="9.93" fill="rgb(132,132,255)"/>
<rect x="71.00" y="386.67" width="6.00" height="17.87" fill="rgb(215,215,255)"/>
<rect x="71.00" y="383.69" width="6.00" height="2.98" fill="rgb(109,109,255)"/>
<rect x="71.00" y="377.73" width="6.00" height="5.96" fill="rgb(23,23,255)"/>
<rect x="71.00" y="365.81" width="6.00" height="11.92" fill="rgb(109,109,255)"/>
<rect x="71.00" y="358.86" width="6.00" height="6.95" fill="rgb(221,221,255)"/>
<rect x="77.00" y="383.69" width="12.00" height="2.98" fill="rgb(185,185,255)"/>
<rect x="77.00" y="377.73" width="12.00" height="5.96" fill="rgb(109,109,255)"/>
<rect x="77.00" y="365.81" width="12.00" height="11.92" fill="rgb(23,23,255)"/>
<rect x="77.00" y="329.07" width="12.00" height="4.97" fill="rgb(215,215,255)"/>
<rect x="89.00" y="404.54" width="7.00" height="9.93" fill="rgb(120,120,255)"/>
<rect x="89.00" y="386.67" width="7.00" height="17.87" fill="rgb(221,221,255)"/>
<rect x="89.00" y="383.69" width="7.00" height="2.98" fill="rgb(221,221,255)"/>
<rect x="89.00" y="377.73" width="7.00" height="5.96" fill="rgb(221,221,255)"/>
<rect x="89.00" y="358.86" width="7.00" height="6.95" fill="rgb(23,23,255)"/>
<rect x="89.00" y="334.04" width="7.00" height="24.83" fill="rgb(86,86,255)"/>
<rect x="96.00" y="358.86" width="25.00" height="6.95" fill="rgb(86,86,255)"/>
<rect x="96.00" y="334.04" width="25.00" height="24.83" fill="rgb(23,23,255)"/>
<rect x="96.00" y="282.20" width="25.00" height="7.15" fill="rgb(215,215,255)"/>
<rect x="121.00" y="414.47" width="5.00" height="9.93" fill="rgb(86,86,255)"/>
<rect x="121.00" y="404.54" width="5.00" height="9.93" fill="rgb(199,199,255)"/>
<rect x="121.00" y="386.67" width="5.00" height="17.87" fill="rgb(185,185,255)"/>
<rect x="121.00" y="383.69" width="5.00" height="2.98" fill="rgb(158,158,255)"/>
<rect x="121.00" y="365.81" width="5.00" height="11.92" fill="rgb(215,215,255)"/>
<rect x="121.00" y="329.07" width="5.00" height="4.97" fill="rgb(23,23,255)"/>
<rect x="121.00" y="289.35" width="5.00" height="39.72" fill="rgb(120,120,255)"/>
<rect x="121.00" y="282.20" width="5.00" height="7.15" fill="rgb(86,86,255)"/>
<rect x="126.00" y="383.69" width="40.00" height="2.98" fill="rgb(185,185,255)"/>
<rect x="126.00" y="329.07" width="40.00" height="4.97" fill="rgb(120,120,255)"/>
<rect x="126.00" y="289.35" width="40.00" height="39.72" fill="rgb(23,23,255)"/>
<rect x="126.00" y="282.20" width="40.00" height="7.15" fill="rgb(31,31,255)"/>
<rect x="166.00" y="383.69" width="7.20" height="2.98" fill="rgb(185,185,255)"/>
<rect x="166.00" y="334.04" width="7.20" height="24.83" fill="rgb(215,215,255)"/>
<rect x="166.00" y="329.07" width="7.20" height="4.97" fill="rgb(86,86,255)"/>
<rect x="166.00" y="289.35" width="7.20" height="39.72" fill="rgb(31,31,255)"/>
<rect x="166.00" y="282.20" width="7.20" height="7.15" fill="rgb(31,31,255)"/>
<rect x="36.5" y="282.2" width="2.0" height="46" fill="rgb(185,185,255)"/>
<rect x="126" y="415.96" width="47.2" height="1.99" fill="rgb(185,185,255)"/>
<rect x="77" y="282.2" width="1.5" height="46" fill="rgb(185,185,255)"/>
<rect x="126" y="376.24" width="47.2" height="1.49" fill="rgb(185,185,255)"/>
<rect x="96" y="282.2" width="1.5" height="46" fill="rgb(185,185,255)"/>
<rect x="126" y="357.37" width="47.2" height="1.49" fill="rgb(185,185,255)"/>
<rect x="30" y="54" width="48.599999999999994" height="5.799999999999997" fill="#1F78B4"/>
<rect x="78.6" y="54" width="94.6" height="5.799999999999997" fill="#A6CEE3"/>
<rect x="252.2" y="54" width="52.0" height="5.799999999999997" fill="#A6CEE3"/>
<rect x="304.2" y="54" width="30.80000000000001" height="5.799999999999997" fill="#B2DF8A"/>
<rect x="335" y="54" width="60.30000000000001" height="5.799999999999997" fill="#1F78B4"/>
<rect x="493" y="53.8" width="32" height="6.0" fill="#B2DF8A"/>
<rect x="525" y="53.8" width="52" height="6.0" fill="#A6CEE3"/>
<rect x="577" y="53.8" width="38" height="6.0" fill="#1F78B4"/>
<rect x="615" y="53.8" width="21.200000000000045" height="6.0" fill="#33A02C"/>
<rect x="30" y="274" width="38" height="6" fill="#1F78B4"/>
<rect x="68" y="274" width="3" height="6" fill="#FB9A99"/>
<rect x="71" y="274" width="18" height="6" fill="#33A02C"/>
<rect x="89" y="274" width="32.400000000000006" height="6" fill="#B2DF8A"/>
<rect x="121.4" y="274" width="51.79999999999998" height="6" fill="#A6CEE3"/>
<rect x="190" y="30.3" width="18.69999999999999" height="19.3" fill="none" stroke="#bbb" stroke-width="0.8"/>
<rect x="194.80" y="35.20" width="4.3" height="3.6" fill="#A6CEE3" stroke="#888" stroke-width="0.45"/>
<text x="203.60" y="39.00" font-size="5.5" fill="#222">1</text>
<rect x="194.80" y="41.20" width="4.3" height="3.6" fill="#1F78B4" stroke="#888" stroke-width="0.45"/>
<text x="203.60" y="45.00" font-size="5.5" fill="#222">2</text>
<rect x="412.4" y="30.4" width="18.30000000000001" height="25.200000000000003" fill="none" stroke="#bbb" stroke-width="0.8"/>
<rect x="417.30" y="35.00" width="4.3" height="3.6" fill="#1F78B4" stroke="#888" stroke-width="0.45"/>
<text x="426.10" y="38.80" font-size="5.5" fill="#222">1</text>
<rect x="417.30" y="41.20" width="4.3" height="3.6" fill="#B2DF8A" stroke="#888" stroke-width="0.45"/>
<text x="426.10" y="45.00" font-size="5.5" fill="#222">2</text>
<rect x="417.30" y="47.40" width="4.3" height="3.6" fill="#A6CEE3" stroke="#888" stroke-width="0.45"/>
<text x="426.10" y="51.20" font-size="5.5" fill="#222">3</text>
<rect x="653" y="30" width="18.700000000000045" height="32" fill="none" stroke="#bbb" stroke-width="0.8"/>
<rect x="657.80" y="35.00" width="4.3" height="3.6" fill="#33A02C" stroke="#888" stroke-width="0.45"/>
<text x="667.10" y="38.80" font-size="5.5" fill="#222">1</text>
<rect x="657.80" y="41.20" width="4.3" height="3.6" fill="#1F78B4" stroke="#888" stroke-width="0.45"/>
<text x="667.10" y="45.00" font-size="5.5" fill="#222">2</text>
<rect x="657.80" y="47.40" width="4.3" height="3.6" fill="#B2DF8A" stroke="#888" stroke-width="0.45"/>
<text x="667.10" y="51.20" font-size="5.5" fill="#222">3</text>
<rect x="657.80" y="53.60" width="4.3" height="3.6" fill="#A6CEE3" stroke="#888" stroke-width="0.45"/>
<text x="667.10" y="57.40" font-size="5.5" fill="#222">4</text>
<rect x="189.3" y="250.7" width="19.299999999999983" height="37.60000000000002" fill="none" stroke="#bbb" stroke-width="0.8"/>
<rect x="194.30" y="255.20" width="4.3" height="3.6" fill="#33A02C" stroke="#888" stroke-width="0.45"/>
<text x="203.10" y="259.00" font-size="5.5" fill="#222">1</text>
<rect x="194.30" y="261.40" width="4.3" height="3.6" fill="#1F78B4" stroke="#888" stroke-width="0.45"/>
<text x="203.10" y="265.20" font-size="5.5" fill="#222">2</text>
<rect x="194.30" y="267.60" width="4.3" height="3.6" fill="#B2DF8A" stroke="#888" stroke-width="0.45"/>
<text x="203.10" y="271.40" font-size="5.5" fill="#222">3</text>
<rect x="194.30" y="273.80" width="4.3" height="3.6" fill="#A6CEE3" stroke="#888" stroke-width="0.45"/>
<text x="203.10" y="277.60" font-size="5.5" fill="#222">4</text>
<rect x="194.30" y="280.00" width="4.3" height="3.6" fill="#FB9A99" stroke="#888" stroke-width="0.45"/>
<text x="203.10" y="283.80" font-size="5.5" fill="#222">5</text>
<path d="M34.5,27.2V10.4H113.5V23.3M31.2,52.3V27.2H38V33.4M33.3,52.3V33.4H42.5V40.4M38.5,45.3V40.4H46.7V43.2M36.4,52.3V45.3H40.6V49.3M39,52.3V49.3H42V52.3M43.6,52.3V43.2H49.9V46.7M47.5,52.3V46.7H53V49M50,52.3V49.5H74V50.8M55,52.3V50.8H70V52.3M30.5,52.3V40H32V52.3M32,52.3V45H34V52.3M83.4,33.2V23.3H143.6V32.3M79.5,52.3V33.2H87.7V39.2M80.5,52.3V42H82V52.3M83.4,52.3V39.2H91.6V43M86.1,52.3V43.6H110.2V47.4M89,52.3V47.4H130.7V52.3M87,52.3V49H90V52.3M92,52.3V50H100V52.3M134.2,42V32.3H153.7V37.4M132.6,52.3V42H135.6V46M134,52.3V46H138V49M137,52.3V49H140V52.3M146.2,46.3V37.4H160V45.2M144.4,52.3V46.3H147.6V52.3M149.8,52.3V45.2H170.1V48M168.5,52.3V48H172V52.3M150,52.3V49.5H160V52.3" fill="none" stroke="#222" stroke-width="0.55"/>
<path d="M256.2,35.4V10.4H328.4V12.1M253.3,52.3V35.4H259.6V38.1M252.8,52.3V42H254V52.3M257.4,52.3V38.1H262.3V40.9M258.2,52.3V40.9H266.6V44.1M258.8,52.3V44.1H274.3V48.3M260,52.3V48.3H302.6V52.3M262,52.3V50.5H280V52.3M309.1,33V12.1H348.6V28.4M305.3,40.3V33H312.6V38.1M303.5,52.3V40.3H308V52.3M309.1,46V38.1H315.7V45.8M308,52.3V46H311V52.3M313,52.3V45.8H318V52.3M317,52.3V49H320V52.3M340.7,40.5V28.4H356.2V30.4M338.2,52.3V40.5H343.2V44M342,52.3V44H346V47M345,52.3V47H350V52.3M354.5,52.3V30.4H358.6V33.1M353.5,52.3V36H355.5V52.3M356.8,52.3V33.1H360.7V38.6M359.7,52.3V38.6H363.5V41.6M360.5,52.3V41.6H366.5V45.6M362,52.3V45.6H371V47.7M366,52.3V47.7H394.8V52.3M370,52.3V50H395V52.3" fill="none" stroke="#222" stroke-width="0.55"/>
<path d="M502,32.8V10.1H604.7V10.3M494.3,52.3V32.8H509.9V35.5M493.5,52.3V41.3H495.5V52.3M499.3,45.4V35.5H521V38.4M497.5,52.3V45.4H501V52.3M520,52.3V38.4H523V52.3M527.6,33.1V11H604.7V13.8M525.6,52.3V33.1H530.7V37M530,52.3V37H540V44.2M531,52.3V44.2H547.5V48.3M534,52.3V48.3H569.8V52.3M540,52.3V50.5H575V52.3M580.2,36V13.8H628.1V26.1M577.3,52.3V36H583.7V38.3M583.7,52.3V38.3H588.4V40.5M580.5,52.3V40.5H596.5V42.5M584,52.3V42.5H608.5V46M607,52.3V46H612V52.3M586,52.3V49H600V52.3M621.3,37.2V26.1H634.9V36M619,52.3V37.2H623.5V41.3M621,52.3V41.3H626V45.4M623,52.3V45.4H630V52.3M633.5,52.3V36H636V52.3" fill="none" stroke="#222" stroke-width="0.55"/>
<path d="M55.5,232.2V230.3H114.6V230.6M100.3,252V230.6H128.9V249M38,251.3V232.2H73.7V243.6M32.4,256.6V251.3H43.6V253.2M30,271.3V256.6H35.5V262M33,271.3V262H37V271.3M39.6,271.3V253.2H46.7V256.4M41,271.3V256.4H51.5V261.6M49.5,271.3V261.6H53V266.4M50,271.3V266.4H57.7V269.2M51,271.3V269.2H64V271.3M69.2,256V243.6H77.4V252.2M68.5,271.3V256H70V271.3M75,271.3V252.2H79.8V260.6M77,271.3V260.6H81.5V264.8M79,271.3V264.8H85V271.3M91.3,257.7V252H109.6V255.5M89.5,271.3V257.7H93V271.3M98.5,266V255.5H119.5V261.3M96,271.3V266H101V271.3M118,271.3V261.3H121V271.3M122.5,262.5V249H135.3V252.5M121.5,271.3V262.5H123.5V271.3M126.5,271.3V252.5H143.5V256.3M127.1,271.3V256.3H160.4V264.4M148.7,266.3V264.4H171.5V266M132,271.3V266.3H165V271.3M169,271.3V266H173V271.3" fill="none" stroke="#222" stroke-width="0.55"/>
<rect x="30" y="51.099999999999994" width="143.2" height="1.6" fill="#777" opacity="0.45"/>
<rect x="252.2" y="51.099999999999994" width="143.10000000000002" height="1.6" fill="#777" opacity="0.45"/>
<rect x="493" y="51.099999999999994" width="143.20000000000005" height="1.6" fill="#777" opacity="0.45"/>
<rect x="30" y="270.1" width="143.2" height="1.6" fill="#777" opacity="0.45"/>
<rect x="248.3" y="250.1" width="182.7" height="163.2" fill="none" stroke="#777" stroke-width="0.9"/>
<line x1="245" y1="406.9" x2="248.3" y2="406.9" stroke="#777" stroke-width="0.8"/>
<text x="241.9" y="409.1" font-size="5.3" text-anchor="end" fill="#222">0.0</text>
<line x1="255.6" y1="413.3" x2="255.6" y2="416.6" stroke="#777" stroke-width="0.8"/>
<text transform="translate(257.5,419.2) rotate(-90)" font-size="5.3" text-anchor="end" fill="#222">0.0</text>
<line x1="245" y1="376.8" x2="248.3" y2="376.8" stroke="#777" stroke-width="0.8"/>
<text x="241.9" y="379.0" font-size="5.3" text-anchor="end" fill="#222">0.2</text>
<line x1="289.2" y1="413.3" x2="289.2" y2="416.6" stroke="#777" stroke-width="0.8"/>
<text transform="translate(291.1,419.2) rotate(-90)" font-size="5.3" text-anchor="end" fill="#222">0.2</text>
<line x1="245" y1="346.7" x2="248.3" y2="346.7" stroke="#777" stroke-width="0.8"/>
<text x="241.9" y="348.9" font-size="5.3" text-anchor="end" fill="#222">0.4</text>
<line x1="322.9" y1="413.3" x2="322.9" y2="416.6" stroke="#777" stroke-width="0.8"/>
<text transform="translate(324.8,419.2) rotate(-90)" font-size="5.3" text-anchor="end" fill="#222">0.4</text>
<line x1="245" y1="316.7" x2="248.3" y2="316.7" stroke="#777" stroke-width="0.8"/>
<text x="241.9" y="318.9" font-size="5.3" text-anchor="end" fill="#222">0.6</text>
<line x1="356.5" y1="413.3" x2="356.5" y2="416.6" stroke="#777" stroke-width="0.8"/>
<text transform="translate(358.4,419.2) rotate(-90)" font-size="5.3" text-anchor="end" fill="#222">0.6</text>
<line x1="245" y1="286.6" x2="248.3" y2="286.6" stroke="#777" stroke-width="0.8"/>
<text x="241.9" y="288.8" font-size="5.3" text-anchor="end" fill="#222">0.8</text>
<line x1="390.2" y1="413.3" x2="390.2" y2="416.6" stroke="#777" stroke-width="0.8"/>
<text transform="translate(392.1,419.2) rotate(-90)" font-size="5.3" text-anchor="end" fill="#222">0.8</text>
<line x1="245" y1="256.5" x2="248.3" y2="256.5" stroke="#777" stroke-width="0.8"/>
<text x="241.9" y="258.7" font-size="5.3" text-anchor="end" fill="#222">1.0</text>
<line x1="423.8" y1="413.3" x2="423.8" y2="416.6" stroke="#777" stroke-width="0.8"/>
<text transform="translate(425.7,419.2) rotate(-90)" font-size="5.3" text-anchor="end" fill="#222">1.0</text>
<text x="339.7" y="437.8" font-size="5.3" text-anchor="middle" fill="#222">consensus index</text>
<text transform="translate(229.2,332.2) rotate(-90)" font-size="5.3" text-anchor="middle" fill="#222">CDF</text>
<polyline points="255.9,404.3 259.3,391.0 263.1,390.0 267.9,388.1 275.5,383.0 283.1,380.5 287.9,376.7 298.3,373.8 309.8,366.2 319.3,357.6 326.9,346.2 332.6,341.0 340.0,334.7 348.1,330.7 354.1,318.6 358.2,312.5 368.2,303.5 378.3,297.4 390.4,291.4 406.6,284.3 420.7,275.2 421.7,272.2 423.3,256.5" fill="none" stroke="#FF1A1A" stroke-width="0.8"/>
<polyline points="255.9,367.1 257.4,360.5 264.0,353.8 271.7,345.2 283.1,340.5 296.4,330.0 310.0,320.0 325.0,310.0 340.0,303.5 360.2,295.4 380.4,287.3 396.5,282.3 408.6,277.2 414.7,271.2 420.7,269.2 423.3,256.5" fill="none" stroke="#FFA01A" stroke-width="0.8"/>
<polyline points="255.9,350.0 261.2,336.7 266.0,330.0 275.0,322.0 290.0,314.0 310.0,306.0 340.0,297.4 360.2,290.4 380.4,284.3 400.5,278.2 412.6,272.2 421.7,268.2 423.3,256.5" fill="none" stroke="#A0EE1A" stroke-width="0.8"/>
<polyline points="255.9,332.5 259.0,325.0 265.0,319.0 275.0,313.0 290.0,305.0 310.0,299.0 340.0,291.4 380.4,280.3 410.6,271.2 420.7,265.0 423.3,256.5" fill="none" stroke="#1AE61A" stroke-width="0.8"/>
<polyline points="255.9,326.0 258.0,321.1 259.0,319.2 263.0,315.4 265.0,313.7 270.0,311.0 275.0,308.3 290.0,301.2 310.0,295.5 340.0,288.3 360.2,283.1 380.4,278.1 400.5,272.5 410.6,269.6 420.7,263.1 423.3,256.5" fill="none" stroke="#1AE6A0" stroke-width="0.8"/>
<polyline points="255.9,320.7 258.0,316.0 259.0,314.4 263.0,310.8 265.0,309.4 270.0,306.8 275.0,304.5 290.0,298.1 310.0,292.6 340.0,285.7 360.2,280.8 380.4,276.3 400.5,271.1 410.6,268.3 420.7,261.6 423.3,256.5" fill="none" stroke="#1AA0E6" stroke-width="0.8"/>
<polyline points="255.9,316.3 258.0,311.7 259.0,310.4 263.0,307.0 265.0,305.8 270.0,303.4 275.0,301.4 290.0,295.6 310.0,290.2 340.0,283.6 360.2,279.0 380.4,274.8 400.5,269.9 410.6,267.2 420.7,260.3 423.3,256.5" fill="none" stroke="#1A1AE6" stroke-width="0.8"/>
<polyline points="255.9,312.3 258.0,307.8 259.0,306.8 263.0,303.5 265.0,302.5 270.0,300.2 275.0,298.5 290.0,293.2 310.0,288.1 340.0,281.7 360.2,277.2 380.4,273.5 400.5,268.8 410.6,266.2 420.7,259.2 423.3,256.5" fill="none" stroke="#A01AE6" stroke-width="0.8"/>
<polyline points="255.9,309.4 258.0,305.0 263.0,301.0 270.0,298.0 290.0,291.5 310.0,286.5 340.0,280.3 360.2,275.2 380.4,272.2 388.4,268.2 400.5,266.1 410.6,264.1 423.3,256.5" fill="none" stroke="#E61AB4" stroke-width="0.8"/>
<rect x="390.5" y="331.7" width="21.2" height="63.6" fill="white" stroke="#999" stroke-width="0.7"/>
<rect x="394.8" y="336.4" width="3.6" height="3.4" fill="#FF1A1A" stroke="#555" stroke-width="0.3"/>
<text x="404.2" y="340.0" font-size="5.1" fill="#222">2</text>
<rect x="394.8" y="342.8" width="3.6" height="3.4" fill="#FFA01A" stroke="#555" stroke-width="0.3"/>
<text x="404.2" y="346.4" font-size="5.1" fill="#222">3</text>
<rect x="394.8" y="349.2" width="3.6" height="3.4" fill="#A0EE1A" stroke="#555" stroke-width="0.3"/>
<text x="404.2" y="352.8" font-size="5.1" fill="#222">4</text>
<rect x="394.8" y="355.6" width="3.6" height="3.4" fill="#1AE61A" stroke="#555" stroke-width="0.3"/>
<text x="404.2" y="359.2" font-size="5.1" fill="#222">5</text>
<rect x="394.8" y="362.0" width="3.6" height="3.4" fill="#1AE6A0" stroke="#555" stroke-width="0.3"/>
<text x="404.2" y="365.6" font-size="5.1" fill="#222">6</text>
<rect x="394.8" y="368.4" width="3.6" height="3.4" fill="#1AA0E6" stroke="#555" stroke-width="0.3"/>
<text x="404.2" y="371.9" font-size="5.1" fill="#222">7</text>
<rect x="394.8" y="374.7" width="3.6" height="3.4" fill="#1A1AE6" stroke="#555" stroke-width="0.3"/>
<text x="404.2" y="378.3" font-size="5.1" fill="#222">8</text>
<rect x="394.8" y="381.1" width="3.6" height="3.4" fill="#A01AE6" stroke="#555" stroke-width="0.3"/>
<text x="404.2" y="384.7" font-size="5.1" fill="#222">9</text>
<rect x="394.8" y="387.5" width="3.6" height="3.4" fill="#E61AB4" stroke="#555" stroke-width="0.3"/>
<text x="404.2" y="391.1" font-size="5.1" fill="#222">10</text>
<rect x="489.5" y="249.8" width="182.5" height="162.6" fill="none" stroke="#777" stroke-width="0.9"/>
<line x1="485" y1="412.0" x2="489.5" y2="412.0" stroke="#777" stroke-width="0.8"/>
<text transform="translate(481.8,412.0) rotate(-90)" font-size="5.3" text-anchor="middle" fill="#222">0.0</text>
<line x1="485" y1="379.4" x2="489.5" y2="379.4" stroke="#777" stroke-width="0.8"/>
<text transform="translate(481.8,379.4) rotate(-90)" font-size="5.3" text-anchor="middle" fill="#222">0.1</text>
<line x1="485" y1="346.7" x2="489.5" y2="346.7" stroke="#777" stroke-width="0.8"/>
<text transform="translate(481.8,346.7) rotate(-90)" font-size="5.3" text-anchor="middle" fill="#222">0.2</text>
<line x1="485" y1="314.1" x2="489.5" y2="314.1" stroke="#777" stroke-width="0.8"/>
<text transform="translate(481.8,314.1) rotate(-90)" font-size="5.3" text-anchor="middle" fill="#222">0.3</text>
<line x1="485" y1="281.4" x2="489.5" y2="281.4" stroke="#777" stroke-width="0.8"/>
<text transform="translate(481.8,281.4) rotate(-90)" font-size="5.3" text-anchor="middle" fill="#222">0.4</text>
<line x1="495.9" y1="412.4" x2="495.9" y2="416.8" stroke="#777" stroke-width="0.8"/>
<text x="495.9" y="424.5" font-size="5.3" text-anchor="middle" fill="#222">2</text>
<line x1="538.1" y1="412.4" x2="538.1" y2="416.8" stroke="#777" stroke-width="0.8"/>
<text x="538.1" y="424.5" font-size="5.3" text-anchor="middle" fill="#222">4</text>
<line x1="580.2" y1="412.4" x2="580.2" y2="416.8" stroke="#777" stroke-width="0.8"/>
<text x="580.2" y="424.5" font-size="5.3" text-anchor="middle" fill="#222">6</text>
<line x1="622.4" y1="412.4" x2="622.4" y2="416.8" stroke="#777" stroke-width="0.8"/>
<text x="622.4" y="424.5" font-size="5.3" text-anchor="middle" fill="#222">8</text>
<line x1="664.5" y1="412.4" x2="664.5" y2="416.8" stroke="#777" stroke-width="0.8"/>
<text x="664.5" y="424.5" font-size="5.3" text-anchor="middle" fill="#222">10</text>
<text x="580" y="437.5" font-size="5.3" text-anchor="middle" fill="#222">k</text>
<text transform="translate(469.5,331.9) rotate(-90)" font-size="5.27" text-anchor="middle" fill="#222">relative change in area under CDF curve</text>
<polyline points="495.9,256.9 517.0,294.5 538.1,378.4 559.1,393.4 580.2,404.5 601.3,405.1 622.4,406.4 643.5,407.4 664.5,407.1" fill="none" stroke="#333" stroke-width="0.7"/>
<circle cx="495.9" cy="256.9" r="1.7" fill="white" stroke="#333" stroke-width="0.6"/>
<circle cx="517.0" cy="294.5" r="1.7" fill="white" stroke="#333" stroke-width="0.6"/>
<circle cx="538.1" cy="378.4" r="1.7" fill="white" stroke="#333" stroke-width="0.6"/>
<circle cx="559.1" cy="393.4" r="1.7" fill="white" stroke="#333" stroke-width="0.6"/>
<circle cx="580.2" cy="404.5" r="1.7" fill="white" stroke="#333" stroke-width="0.6"/>
<circle cx="601.3" cy="405.1" r="1.7" fill="white" stroke="#333" stroke-width="0.6"/>
<circle cx="622.4" cy="406.4" r="1.7" fill="white" stroke="#333" stroke-width="0.6"/>
<circle cx="643.5" cy="407.4" r="1.7" fill="white" stroke="#333" stroke-width="0.6"/>
<circle cx="664.5" cy="407.1" r="1.7" fill="white" stroke="#333" stroke-width="0.6"/>
</svg></body></html>
